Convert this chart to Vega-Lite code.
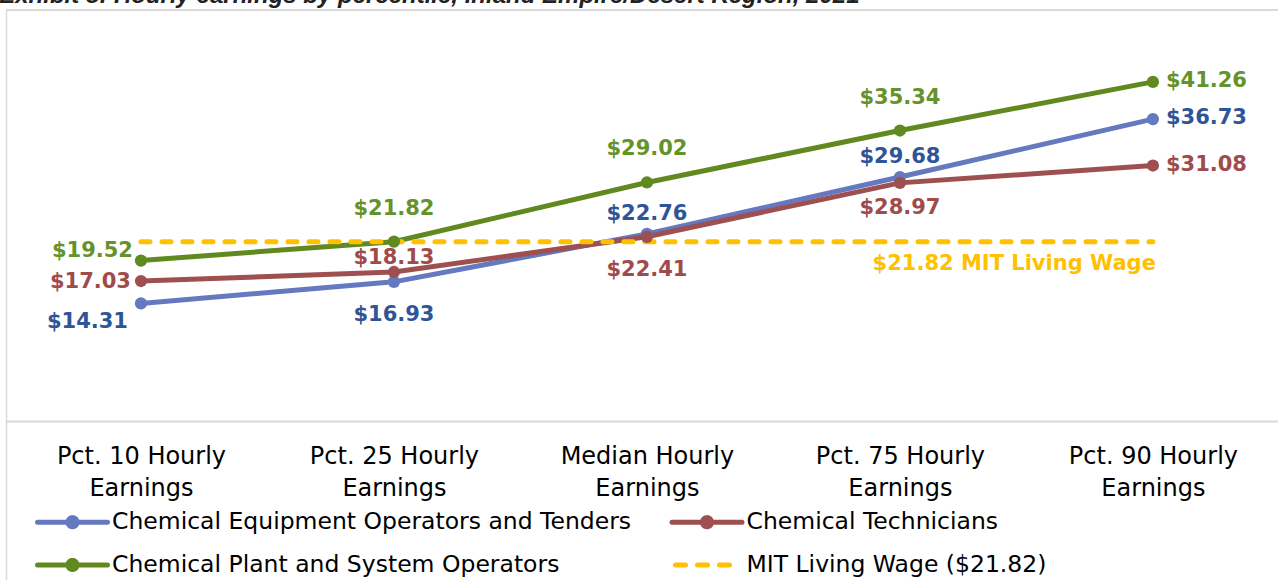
{
  "$schema": "https://vega.github.io/schema/vega-lite/v6.json",
  "autosize": {"type": "none"},
  "width": 1272,
  "height": 570,
  "padding": {"left": 6, "top": 10, "right": 0, "bottom": 0},
  "background": "white",
  "title": {
    "text": "Exhibit 8: Hourly earnings by percentile, Inland Empire/Desert Region, 2021",
    "anchor": "start",
    "orient": "top",
    "font": "Liberation Sans",
    "fontSize": 24,
    "fontStyle": "italic",
    "fontWeight": "bold",
    "color": "#222222",
    "baseline": "alphabetic",
    "offset": 0,
    "dy": 18,
    "dx": -6
  },
  "config": {
    "view": {"stroke": null},
    "font": "DejaVu Sans"
  },
  "datasets": {
    "wages": [
      {"cat": "Pct. 10 Hourly Earnings", "series": "Chemical Equipment Operators and Tenders", "value": 14.31},
      {"cat": "Pct. 25 Hourly Earnings", "series": "Chemical Equipment Operators and Tenders", "value": 16.93},
      {"cat": "Median Hourly Earnings", "series": "Chemical Equipment Operators and Tenders", "value": 22.76},
      {"cat": "Pct. 75 Hourly Earnings", "series": "Chemical Equipment Operators and Tenders", "value": 29.68},
      {"cat": "Pct. 90 Hourly Earnings", "series": "Chemical Equipment Operators and Tenders", "value": 36.73},
      {"cat": "Pct. 10 Hourly Earnings", "series": "Chemical Technicians", "value": 17.03},
      {"cat": "Pct. 25 Hourly Earnings", "series": "Chemical Technicians", "value": 18.13},
      {"cat": "Median Hourly Earnings", "series": "Chemical Technicians", "value": 22.41},
      {"cat": "Pct. 75 Hourly Earnings", "series": "Chemical Technicians", "value": 28.97},
      {"cat": "Pct. 90 Hourly Earnings", "series": "Chemical Technicians", "value": 31.08},
      {"cat": "Pct. 10 Hourly Earnings", "series": "Chemical Plant and System Operators", "value": 19.52},
      {"cat": "Pct. 25 Hourly Earnings", "series": "Chemical Plant and System Operators", "value": 21.82},
      {"cat": "Median Hourly Earnings", "series": "Chemical Plant and System Operators", "value": 29.02},
      {"cat": "Pct. 75 Hourly Earnings", "series": "Chemical Plant and System Operators", "value": 35.34},
      {"cat": "Pct. 90 Hourly Earnings", "series": "Chemical Plant and System Operators", "value": 41.26}
    ],
    "mit": [
      {"cat": "Pct. 10 Hourly Earnings", "series": "MIT Living Wage ($21.82)", "value": 21.82},
      {"cat": "Pct. 25 Hourly Earnings", "series": "MIT Living Wage ($21.82)", "value": 21.82},
      {"cat": "Median Hourly Earnings", "series": "MIT Living Wage ($21.82)", "value": 21.82},
      {"cat": "Pct. 75 Hourly Earnings", "series": "MIT Living Wage ($21.82)", "value": 21.82},
      {"cat": "Pct. 90 Hourly Earnings", "series": "MIT Living Wage ($21.82)", "value": 21.82}
    ]
  },
  "data": {"name": "wages"},
  "layer": [
    {
      "mark": {"type": "rule", "color": "#d9d9d9", "strokeWidth": 1.5},
      "encoding": {"y": {"datum": 50, "type": "quantitative", "scale": {"domain": [-19.34, 50], "nice": false, "zero": false}, "axis": {"title": null, "domain": true, "domainColor": "#d9d9d9", "domainWidth": 1.5, "labels": false, "ticks": false, "grid": false}}}
    },
    {
      "encoding": {
        "x": {
          "field": "cat",
          "type": "nominal",
          "sort": null,
          "scale": {
            "type": "point",
            "padding": 0.514,
            "align": 0.519,
            "domain": ["Pct. 10 Hourly Earnings", "Pct. 25 Hourly Earnings", "Median Hourly Earnings", "Pct. 75 Hourly Earnings", "Pct. 90 Hourly Earnings"]
          },
          "axis": {
            "title": null,
            "domain": true,
            "domainColor": "#d9d9d9",
            "domainWidth": 2,
            "offset": -159,
            "ticks": false,
            "grid": false,
            "labelAngle": 0,
            "labelFont": "DejaVu Sans",
            "labelFontSize": 24,
            "labelColor": "#000000",
            "labelLineHeight": 32,
            "labelPadding": 23,
            "labelBaseline": "top",
            "labelExpr": "[replace(datum.label, ' Earnings', ''), 'Earnings']"
          }
        },
        "y": {
          "field": "value",
          "type": "quantitative"
        }
      },
      "layer": [
        {
          "mark": {"type": "line", "strokeWidth": 5, "strokeCap": "round"},
          "encoding": {
            "color": {
              "field": "series",
              "type": "nominal",
              "sort": null,
              "scale": {
                "domain": ["Chemical Equipment Operators and Tenders", "Chemical Technicians", "Chemical Plant and System Operators", "MIT Living Wage ($21.82)"],
                "range": ["#6479bf", "#9e5050", "#608a20", "#ffc000"]
              },
              "legend": {
                "title": null,
                "orient": "none",
                "legendX": 46.5,
                "legendY": 492,
                "columns": 2,
                "direction": "horizontal",
                "gridAlign": "each",
                "columnPadding": 30.5,
                "rowPadding": 8,
                "padding": 0,
                "labelFont": "DejaVu Sans",
                "labelFontSize": 23.5,
                "labelColor": "#000000",
                "labelOffset": 19.5,
                "labelLimit": 900,
                "symbolSize": 1225,
                "symbolStrokeWidth": 5,
                "encode": {
                  "symbols": {
                    "update": {
                      "shape": {"signal": "datum.value === 'MIT Living Wage ($21.82)' ? 'M-1.8,0H1.8' : 'M-2,0H2M0.26,0A0.26,0.26,0,1,1,-0.26,0A0.26,0.26,0,1,1,0.26,0Z'"},
                      "fill": {"signal": "datum.value === 'MIT Living Wage ($21.82)' ? 'transparent' : scale('color', datum.value)"},
                      "stroke": {"signal": "scale('color', datum.value)"},
                      "strokeDash": {"signal": "datum.value === 'MIT Living Wage ($21.82)' ? [10,12] : [1,0]"},
                      "strokeCap": {"value": "round"},
                      "strokeWidth": {"value": 5},
                      "size": {"value": 1225},
                      "opacity": {"value": 1},
                      "fillOpacity": {"value": 1},
                      "strokeOpacity": {"value": 1}
                    }
                  }
                }
              }
            }
          }
        },
        {
          "data": {"name": "mit"},
          "mark": {"type": "line", "strokeWidth": 5, "strokeDash": [9, 12], "strokeCap": "round"},
          "encoding": {
            "color": {"field": "series", "type": "nominal"}
          }
        },
        {
          "mark": {"type": "circle", "size": 150, "opacity": 1},
          "encoding": {
            "color": {"field": "series", "type": "nominal"}
          }
        },
        {
          "data": {"name": "mit"},
          "transform": [{"filter": "datum.cat === 'Pct. 90 Hourly Earnings'"}],
          "mark": {"type": "text", "align": "right", "baseline": "middle", "dx": 3, "dy": 22, "fontSize": 21, "fontWeight": "bold", "color": "#ffc000"},
          "encoding": {"text": {"value": "$21.82 MIT Living Wage"}}
        },
        {
          "transform": [{"filter": "datum.series === 'Chemical Plant and System Operators' && datum.cat !== 'Pct. 10 Hourly Earnings' && datum.cat !== 'Pct. 90 Hourly Earnings'"}],
          "mark": {"type": "text", "align": "center", "baseline": "middle", "dy": -33, "fontSize": 21, "fontWeight": "bold"},
          "encoding": {
            "text": {"field": "value", "type": "quantitative", "format": "$.2f"},
            "fill": {"field": "series", "type": "nominal", "scale": {"domain": ["Chemical Equipment Operators and Tenders", "Chemical Technicians", "Chemical Plant and System Operators"], "range": ["#2f5597", "#a04b4b", "#66922a"]}, "legend": null}
          }
        },
        {
          "transform": [{"filter": "datum.series === 'Chemical Equipment Operators and Tenders' && (datum.cat === 'Median Hourly Earnings' || datum.cat === 'Pct. 75 Hourly Earnings')"}],
          "mark": {"type": "text", "align": "center", "baseline": "middle", "dy": -20, "fontSize": 21, "fontWeight": "bold"},
          "encoding": {
            "text": {"field": "value", "type": "quantitative", "format": "$.2f"},
            "fill": {"field": "series", "type": "nominal", "legend": null}
          }
        },
        {
          "transform": [{"filter": "datum.series === 'Chemical Technicians' && datum.cat === 'Pct. 25 Hourly Earnings'"}],
          "mark": {"type": "text", "align": "center", "baseline": "middle", "dy": -14, "fontSize": 21, "fontWeight": "bold"},
          "encoding": {
            "text": {"field": "value", "type": "quantitative", "format": "$.2f"},
            "fill": {"field": "series", "type": "nominal", "legend": null}
          }
        },
        {
          "transform": [{"filter": "(datum.series === 'Chemical Equipment Operators and Tenders' && datum.cat === 'Pct. 25 Hourly Earnings') || (datum.series === 'Chemical Technicians' && datum.cat === 'Median Hourly Earnings')"}],
          "mark": {"type": "text", "align": "center", "baseline": "middle", "dy": 33, "fontSize": 21, "fontWeight": "bold"},
          "encoding": {
            "text": {"field": "value", "type": "quantitative", "format": "$.2f"},
            "fill": {"field": "series", "type": "nominal", "legend": null}
          }
        },
        {
          "transform": [{"filter": "datum.series === 'Chemical Technicians' && datum.cat === 'Pct. 75 Hourly Earnings'"}],
          "mark": {"type": "text", "align": "center", "baseline": "middle", "dy": 25, "fontSize": 21, "fontWeight": "bold"},
          "encoding": {
            "text": {"field": "value", "type": "quantitative", "format": "$.2f"},
            "fill": {"field": "series", "type": "nominal", "legend": null}
          }
        },
        {
          "transform": [{"filter": "datum.series === 'Chemical Plant and System Operators' && datum.cat === 'Pct. 10 Hourly Earnings'"}],
          "mark": {"type": "text", "align": "right", "baseline": "middle", "dx": -8, "dy": -10, "fontSize": 21, "fontWeight": "bold"},
          "encoding": {
            "text": {"field": "value", "type": "quantitative", "format": "$.2f"},
            "fill": {"field": "series", "type": "nominal", "legend": null}
          }
        },
        {
          "transform": [{"filter": "datum.series === 'Chemical Technicians' && datum.cat === 'Pct. 10 Hourly Earnings'"}],
          "mark": {"type": "text", "align": "right", "baseline": "middle", "dx": -10, "dy": 1, "fontSize": 21, "fontWeight": "bold"},
          "encoding": {
            "text": {"field": "value", "type": "quantitative", "format": "$.2f"},
            "fill": {"field": "series", "type": "nominal", "legend": null}
          }
        },
        {
          "transform": [{"filter": "datum.series === 'Chemical Equipment Operators and Tenders' && datum.cat === 'Pct. 10 Hourly Earnings'"}],
          "mark": {"type": "text", "align": "right", "baseline": "middle", "dx": -13, "dy": 19, "fontSize": 21, "fontWeight": "bold"},
          "encoding": {
            "text": {"field": "value", "type": "quantitative", "format": "$.2f"},
            "fill": {"field": "series", "type": "nominal", "legend": null}
          }
        },
        {
          "transform": [{"filter": "datum.cat === 'Pct. 90 Hourly Earnings'"}],
          "mark": {"type": "text", "align": "left", "baseline": "middle", "dx": 13, "dy": -1, "fontSize": 21, "fontWeight": "bold"},
          "encoding": {
            "text": {"field": "value", "type": "quantitative", "format": "$.2f"},
            "fill": {"field": "series", "type": "nominal", "legend": null}
          }
        }
      ]
    }
  ]
}
